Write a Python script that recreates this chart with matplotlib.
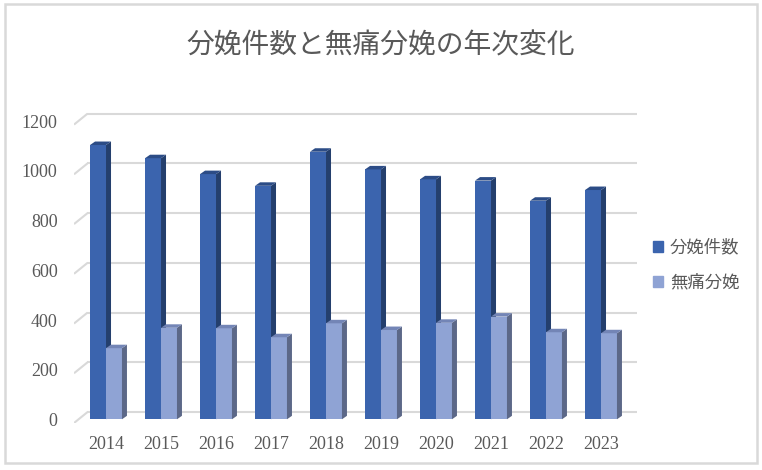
import matplotlib.pyplot as plt
import matplotlib.patches as mpatches
from matplotlib.patches import Polygon, Rectangle

# data
years = ['2014', '2015', '2016', '2017', '2018', '2019', '2020', '2021', '2022', '2023']
births = [1103, 1050, 986, 939, 1076, 1005, 965, 960, 879, 922]
epidural = [286, 368, 366, 330, 386, 359, 388, 413, 350, 346]
series_names = ['分娩件数', '無痛分娩']
yticks = [0, 200, 400, 600, 800, 1000, 1200]
title = '分娩件数と無痛分娩の年次変化'

cjk = ['Noto Sans CJK JP', 'DejaVu Sans']
serif = ['Liberation Serif', 'DejaVu Serif']
gray = '#595959'
grid_c = '#D9D9D9'

# colours: front, side, top
dark = ('#3B64AE', '#243F6D', '#2C4C86')
light = ('#8FA3D4', '#5C6888', '#7385B6')

W, H = 762, 470
fig = plt.figure(figsize=(W / 100, H / 100), dpi=100)

# axes placed in pixel terms
left_px, right_px, top_px, bot_px = 74, 640, 100, 423
ax = fig.add_axes([left_px / W, 1 - bot_px / H, (right_px - left_px) / W, (bot_px - top_px) / H])
ax.set_xlim(-0.582, 9.709)
ax.set_ylim(-14.9, 1284)
ax.axis('off')

# depth of the 3d look in data units
bw = 0.29          # width of one bar
dx, dy = 0.091, 14  # bar depth
gx0, gx1 = -0.337, 9.663  # back wall extent
g_front, g_back = -14.9, 29

# gridlines on back wall + floor diagonal
for v in yticks:
    ax.plot([-0.582, gx0], [v + g_front, v + g_back], color=grid_c, lw=1.5, zorder=1, solid_capstyle='butt')
    ax.plot([gx0, gx1], [v + g_back, v + g_back], color=grid_c, lw=1.5, zorder=1, solid_capstyle='butt')
    ax.text(-0.88, v - 9, str(v), ha='right', va='center', fontsize=13,
            family=serif, color=gray, clip_on=False)


def bar3d(x, v, cols, z):
    front, side, top = cols
    ax.bar(x, v, width=bw, color=front, edgecolor='none', zorder=z)
    xr = x + bw / 2
    xl = x - bw / 2
    ax.add_patch(Polygon([(xr, 0), (xr + dx, dy), (xr + dx, v + dy), (xr, v)],
                         closed=True, facecolor=side, edgecolor='none', zorder=z))
    ax.add_patch(Polygon([(xl, v), (xl + dx, v + dy), (xr + dx, v + dy), (xr, v)],
                         closed=True, facecolor=top, edgecolor='none', zorder=z))


for i, (a, b) in enumerate(zip(births, epidural)):
    bar3d(i - bw / 2, a, dark, 3 + 2 * i)
    bar3d(i + bw / 2, b, light, 4 + 2 * i)

for i, yr in enumerate(years):
    ax.text(i, -103, yr, ha='center', va='center', fontsize=13,
            family=serif, color=gray, clip_on=False)

fig.text(381 / W, 1 - 46 / H, title, ha='center', va='center', fontsize=20,
         family=cjk, color=gray)

handles = [mpatches.Patch(color=dark[0]), mpatches.Patch(color=light[0])]
leg = fig.legend(handles, series_names, loc='center left',
                 bbox_to_anchor=(637 / W, 1 - 265 / H), frameon=False,
                 prop={'family': cjk, 'size': 12.5}, labelcolor=gray,
                 handlelength=0.6, handleheight=0.6, handletextpad=0.4,
                 labelspacing=1.0)

fig.add_artist(Rectangle((5 / W, 1 - 463 / H), 752 / W, 459 / H, transform=fig.transFigure,
                         fill=False, edgecolor=grid_c, lw=1.8))

fig.savefig('out.png', dpi=100)
